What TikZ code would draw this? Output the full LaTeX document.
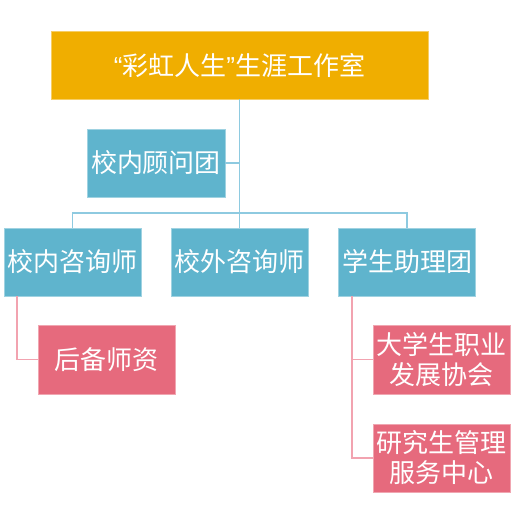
\documentclass[tikz,border=0pt]{standalone}
\usepackage{fontspec}
\newfontfamily\cjk{Noto Sans CJK SC}
\newfontfamily\latin{Liberation Sans}
\usetikzlibrary{positioning,calc}

\definecolor{gold}{HTML}{F0AE00}
\definecolor{sky}{HTML}{5FB4CD}
\definecolor{rose}{HTML}{E66A7D}
\definecolor{skyline}{HTML}{8ECAE0}
\definecolor{roseline}{HTML}{F2A3B0}

\tikzset{
  box/.style={rectangle,minimum width=137pt,minimum height=68pt,inner sep=0pt,
    text=white,align=center,font=\cjk\fontsize{26}{30}\selectfont,line width=0.8pt},
  bluebox/.style={box,fill=sky,draw=sky!60!white},
  pinkbox/.style={box,fill=rose,draw=rose!60!white},
  blueconn/.style={skyline,line width=1.5pt},
  pinkconn/.style={roseline,line width=1.5pt}
}

\begin{document}
\begin{tikzpicture}[x=1pt,y=-1pt]
\useasboundingbox (0,0) rectangle (523,507);
% nodes
\node [box,fill=gold,draw=gold!60!white,minimum width=377pt] (top) at (239.5,65) {{\latin “}彩虹人生{\latin ”}生涯工作室};
\node [bluebox,minimum width=138pt] (adv) at (156,163) {校内顾问团};
\node [bluebox] (inner) at (72.5,262) {校内咨询师};
\node [bluebox] (outer) at (239.5,262) {校外咨询师};
\node [bluebox] (stud) at (407,262) {学生助理团};
\node [pinkbox,minimum height=69pt] (reserve) at (106.5,359.5) {后备师资};
\node [pinkbox,minimum height=69pt] (assoc) at (441.5,359.5) {大学生职业\\发展协会};
\node [pinkbox] (grad) at (441.5,458) {研究生管理\\服务中心};
% connectors
\coordinate (bar) at (239.5,213);
\draw [blueconn] (top.south) -- (outer.north);
\draw [blueconn] (adv.east) -- (adv.east -| top.south);
\draw [blueconn] (inner.north) |- (bar) -| (stud.north);
\draw [pinkconn] ([xshift=-55.5pt]inner.south) |- (reserve.west);
\draw [pinkconn] ([xshift=14pt]stud.south west) |- (assoc.west);
\draw [pinkconn] ([xshift=14pt]stud.south west) |- (grad.west);
\end{tikzpicture}
\end{document}
